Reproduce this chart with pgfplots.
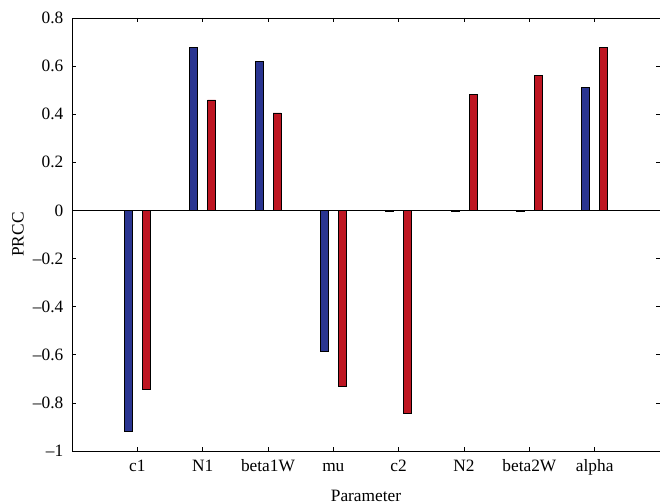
\documentclass[border=0pt]{standalone}
\usepackage{pgfplots}
\pgfplotsset{compat=1.18}
\usepackage{fontspec}
\setmainfont{Liberation Serif}
\definecolor{mblue}{RGB}{42,53,145}
\definecolor{mred}{RGB}{190,22,34}
\newcommand{\fs}{\fontsize{13}{15}\selectfont}
\begin{document}
\begin{tikzpicture}
\begin{axis}[
  scale only axis, width=441pt, height=324.75pt,
  xmin=0, xmax=9, ymin=-1, ymax=0.8,
  xtick={1,2,3,4,5,6,7,8},
  xticklabels={c1,N1,beta1W,mu,c2,N2,beta2W,alpha},
  ytick={-1,-0.8,-0.6,-0.4,-0.2,0,0.2,0.4,0.6,0.8},
  yticklabels={–1,–0.8,–0.6,–0.4,–0.2,0,0.2,0.4,0.6,0.8},
  tick align=inside, major tick length=3pt,
  tick style={black, line width=0.5pt},
  axis line style={black, line width=0.6pt},
  tick label style={font=\fs},
  label style={font=\fs},
  xlabel={Parameter}, ylabel={PRCC},
  xlabel style={at={(axis description cs:0.5,-0.103)}, anchor=center},
  ylabel style={at={(axis description cs:-0.0918,0.5)}, anchor=center, rotate=0},
  yticklabel style={xshift=-3pt},
  xticklabel style={yshift=-3pt, text height=9pt, text depth=3pt},
]
\coordinate (SW) at (rel axis cs:0,0);
\coordinate (NE) at (rel axis cs:1,1);
\addplot[ybar, bar width=6pt, bar shift=-6.75pt, fill=mblue, draw=black, line width=0.4pt]
 coordinates {(1,-0.919) (2,0.679) (3,0.621) (4,-0.586) (5,-0.003) (6,-0.003) (7,-0.003) (8,0.513)};
\addplot[ybar, bar width=6pt, bar shift=6.75pt, fill=mred, draw=black, line width=0.4pt]
 coordinates {(1,-0.743) (2,0.460) (3,0.406) (4,-0.729) (5,-0.844) (6,0.482) (7,0.563) (8,0.677)};
\addplot[sharp plot, black, line width=0.6pt, forget plot] coordinates {(0,0) (9,0)};
\end{axis}
\pgfresetboundingbox
\path ([shift={(-54pt,-39pt)}]SW) rectangle ([shift={(0pt,13.5pt)}]NE);
\end{tikzpicture}
\end{document}
